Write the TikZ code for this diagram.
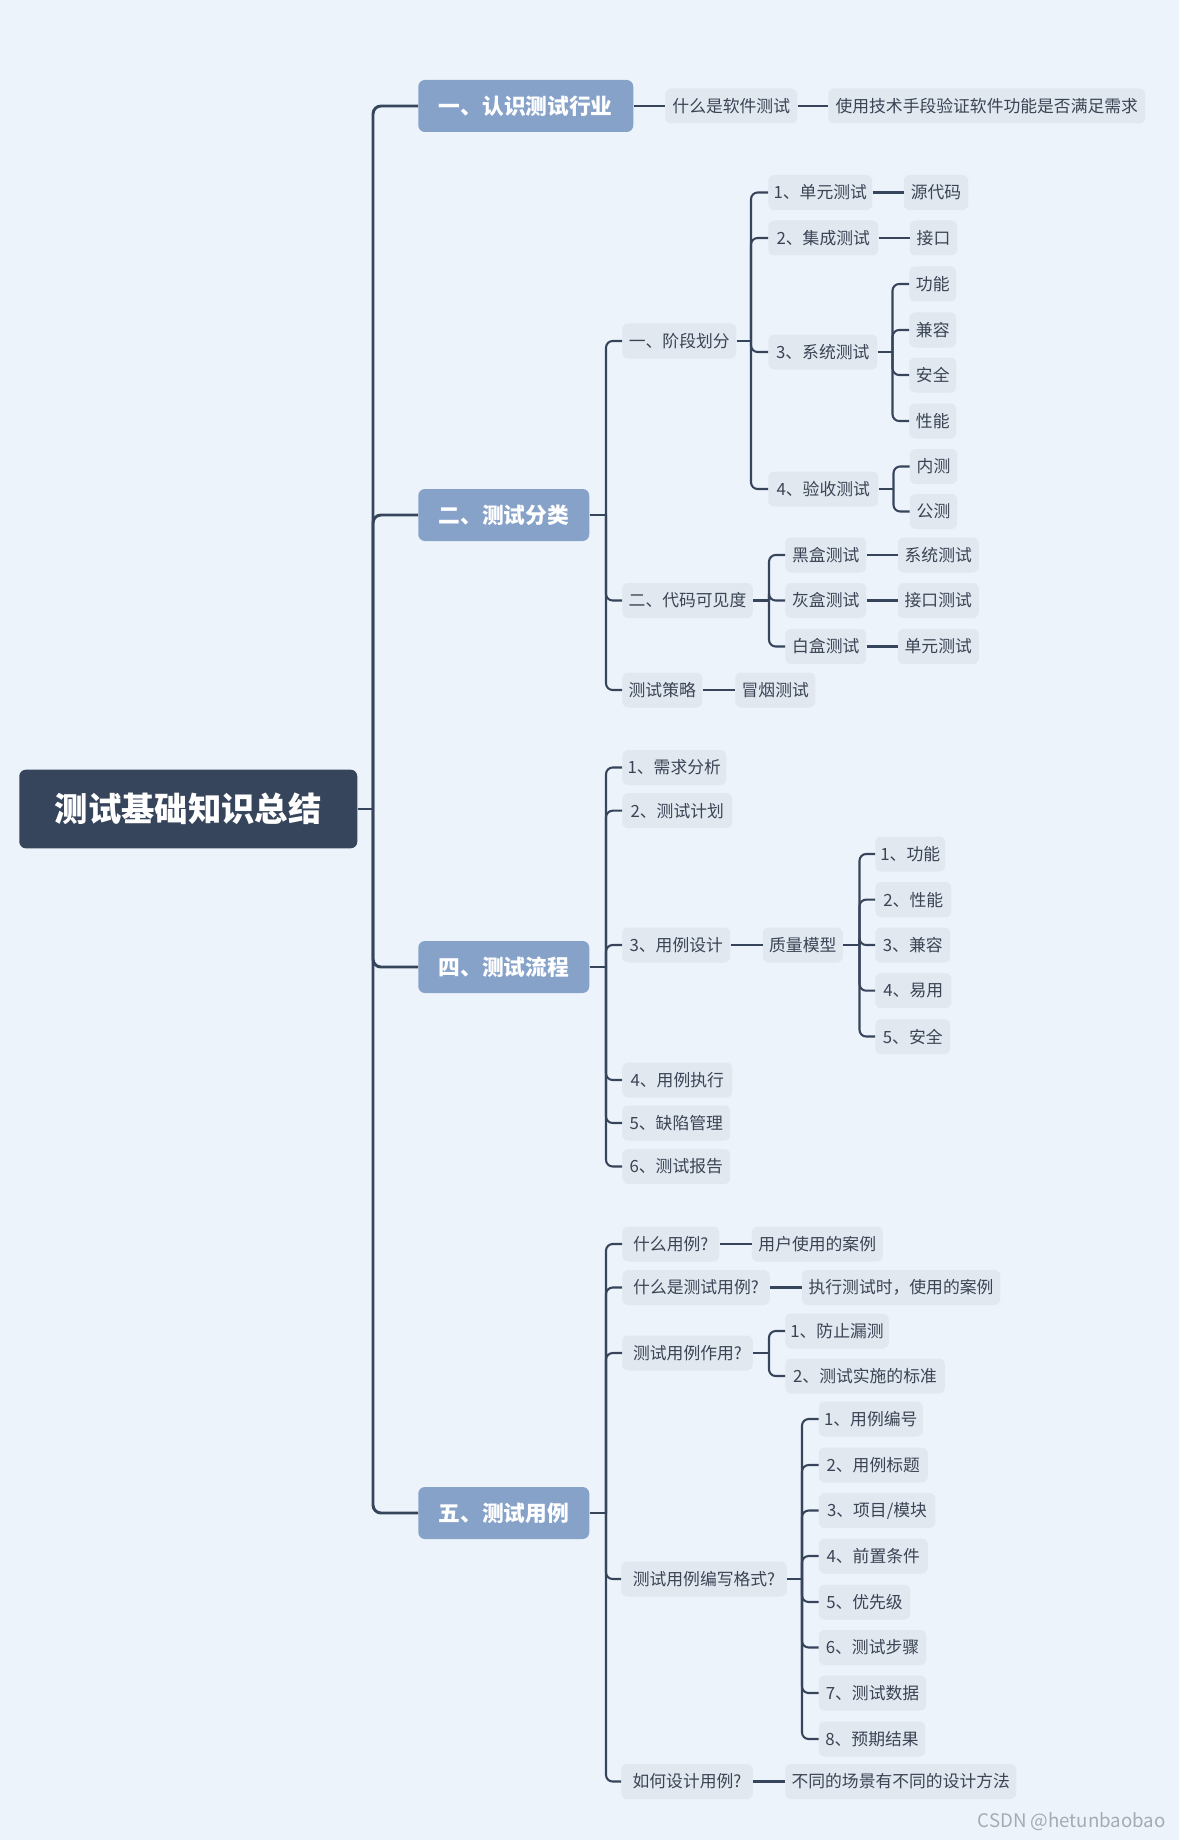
\documentclass[tikz,border=0pt]{standalone}
\usepackage{fontspec}
\setmainfont{Noto Sans CJK SC}
\definecolor{bgc}{HTML}{EDF3FA}
\definecolor{rootbg}{HTML}{36455C}
\definecolor{topicbg}{HTML}{86A2C9}
\definecolor{leafbg}{HTML}{E2E8F0}
\definecolor{leaftext}{HTML}{3A4454}
\definecolor{linec}{HTML}{36455C}
\definecolor{wmark}{HTML}{A3ABB5}
\newcommand\lf[5]{\node[leaf,minimum width=#4*0.75pt] (#1) at (#2,#3) {#5};}
\newcommand\stub[3][conn]{\draw[#1] (#2.east) -- (#3,0 |- #2.east);}
\newcommand\kid[4][conn]{\draw[#1] (#3,0 |- #2.east) |- (#4.west);}
\newcommand\hl[2]{\draw[conn] (#1.east) -- (#1.east -| #2.west);}
\begin{document}
\begin{tikzpicture}[x=0.75pt,y=-0.75pt,
  every node/.style={inner sep=0pt},
  leaf/.style={fill=leafbg, text=leaftext, rounded corners=4.5pt, minimum height=26.25pt, font=\fontsize{12.6pt}{14pt}\selectfont, anchor=west},
  topic/.style={fill=topicbg, text=white, rounded corners=5pt, minimum height=39pt, font=\fontsize{16.3pt}{18pt}\selectfont\bfseries, anchor=west},
  rootbox/.style={fill=rootbg, text=white, rounded corners=5pt, minimum height=59pt, font=\fontsize{25pt}{28pt}\selectfont\bfseries, anchor=west},
  conn/.style={draw=linec, line width=1.55pt, rounded corners=5pt},
  trunk/.style={draw=linec, line width=2.2pt, rounded corners=6pt}
]
\fill[bgc] (0,0) rectangle (1179,1840);
\useasboundingbox (0,0) rectangle (1179,1840);

% root and topics
\node[rootbox, minimum width=338*0.75pt] (root) at (19,809) {测试基础知识总结};
\node[topic, minimum width=215*0.75pt] (A1) at (418,106) {一、认识测试行业};
\node[topic, minimum width=171*0.75pt] (A2) at (418,515) {二、测试分类};
\node[topic, minimum width=171*0.75pt] (A4) at (418,967) {四、测试流程};
\node[topic, minimum width=171*0.75pt] (A5) at (418,1513) {五、测试用例};

\stub[trunk]{root}{373}
\kid[trunk]{root}{373}{A1}
\kid[trunk]{root}{373}{A2}
\kid[trunk]{root}{373}{A4}
\kid[trunk]{root}{373}{A5}

% topic 1
\lf{b11}{665}{106}{132}{什么是软件测试}
\lf{b12}{828}{106}{317}{使用技术手段验证软件功能是否满足需求}
\hl{A1}{b11}
\hl{b11}{b12}

% topic 2
\lf{c1}{622}{341}{114}{一、阶段划分}
\lf{c11}{768}{192.5}{104}{1、单元测试}
\lf{c111}{903.5}{192.5}{64.5}{源代码}
\lf{c12}{768}{238}{110}{2、集成测试}
\lf{c121}{909.5}{238}{47.5}{接口}
\lf{c13}{768}{352}{109}{3、系统测试}
\lf{c131}{909}{284}{47}{功能}
\lf{c132}{909}{330}{47}{兼容}
\lf{c133}{909}{375}{47}{安全}
\lf{c134}{909}{421}{47}{性能}
\lf{c14}{768}{489}{110}{4、验收测试}
\lf{c141}{909.5}{466.5}{47.5}{内测}
\lf{c142}{909.5}{511.5}{47.5}{公测}
\lf{c2}{622}{600.5}{130.5}{二、代码可见度}
\lf{c21}{785}{555}{81}{黑盒测试}
\lf{c211}{897.5}{555}{81}{系统测试}
\lf{c22}{785}{600.5}{81}{灰盒测试}
\lf{c221}{897.5}{600.5}{81}{接口测试}
\lf{c23}{785}{646.5}{81}{白盒测试}
\lf{c231}{897.5}{646.5}{81}{单元测试}
\lf{c3}{622}{690}{80}{测试策略}
\lf{c31}{735}{690}{80}{冒烟测试}

\stub{A2}{606}
\kid{A2}{606}{c1}
\kid{A2}{606}{c2}
\kid{A2}{606}{c3}
\stub{c1}{751}
\kid{c1}{751}{c11}
\kid{c1}{751}{c12}
\kid{c1}{751}{c13}
\kid{c1}{751}{c14}
\hl{c11}{c111}
\hl{c12}{c121}
\stub{c13}{892.5}
\kid{c13}{892.5}{c131}
\kid{c13}{892.5}{c132}
\kid{c13}{892.5}{c133}
\kid{c13}{892.5}{c134}
\stub{c14}{893.5}
\kid{c14}{893.5}{c141}
\kid{c14}{893.5}{c142}
\stub{c2}{769}
\kid{c2}{769}{c21}
\kid{c2}{769}{c22}
\kid{c2}{769}{c23}
\hl{c21}{c211}
\hl{c22}{c221}
\hl{c23}{c231}
\hl{c3}{c31}

% topic 4
\lf{d1}{622}{767.5}{104}{1、需求分析}
\lf{d2}{622}{810.7}{110}{2、测试计划}
\lf{d3}{622}{945}{108}{3、用例设计}
\lf{d31}{762.5}{945}{80}{质量模型}
\lf{d311}{875}{854}{70}{1、功能}
\lf{d312}{875}{899.6}{76}{2、性能}
\lf{d313}{875}{945}{75}{3、兼容}
\lf{d314}{875}{990.7}{76}{4、易用}
\lf{d315}{875}{1036.5}{75}{5、安全}
\lf{d4}{622}{1080}{110}{4、用例执行}
\lf{d5}{622}{1123}{108}{5、缺陷管理}
\lf{d6}{622}{1166.5}{108}{6、测试报告}

\stub{A4}{606}
\kid{A4}{606}{d1}
\kid{A4}{606}{d2}
\kid{A4}{606}{d3}
\kid{A4}{606}{d4}
\kid{A4}{606}{d5}
\kid{A4}{606}{d6}
\hl{d3}{d31}
\stub{d31}{859.5}
\kid{d31}{859.5}{d311}
\kid{d31}{859.5}{d312}
\kid{d31}{859.5}{d313}
\kid{d31}{859.5}{d314}
\kid{d31}{859.5}{d315}

% topic 5
\lf{e1}{622}{1244}{97}{什么用例?}
\lf{e11}{751.5}{1244}{131}{用户使用的案例}
\lf{e2}{622}{1287.5}{147.5}{什么是测试用例?}
\lf{e21}{801.5}{1287.5}{198.5}{执行测试时，使用的案例}
\lf{e3}{622}{1353}{130.5}{测试用例作用?}
\lf{e31}{785}{1331}{103.5}{1、防止漏测}
\lf{e32}{785}{1376}{159.5}{2、测试实施的标准}
\lf{e4}{621}{1579}{165.5}{测试用例编写格式?}
\lf{e41}{818.5}{1419}{104}{1、用例编号}
\lf{e42}{818.5}{1465}{109}{2、用例标题}
\lf{e43}{818.5}{1510.5}{116.5}{3、项目/模块}
\lf{e44}{818.5}{1556}{109}{4、前置条件}
\lf{e45}{818.5}{1602}{91.5}{5、优先级}
\lf{e46}{818.5}{1647.5}{107.5}{6、测试步骤}
\lf{e47}{818.5}{1693}{107.5}{7、测试数据}
\lf{e48}{818.5}{1739}{106.5}{8、预期结果}
\lf{e5}{621}{1781.5}{131.5}{如何设计用例?}
\lf{e51}{785}{1781.5}{231}{不同的场景有不同的设计方法}

\stub{A5}{606}
\kid{A5}{606}{e1}
\kid{A5}{606}{e2}
\kid{A5}{606}{e3}
\kid{A5}{606}{e4}
\kid{A5}{606}{e5}
\hl{e1}{e11}
\hl{e2}{e21}
\stub{e3}{769}
\kid{e3}{769}{e31}
\kid{e3}{769}{e32}
\stub{e4}{802}
\kid{e4}{802}{e41}
\kid{e4}{802}{e42}
\kid{e4}{802}{e43}
\kid{e4}{802}{e44}
\kid{e4}{802}{e45}
\kid{e4}{802}{e46}
\kid{e4}{802}{e47}
\kid{e4}{802}{e48}
\hl{e5}{e51}

\node[anchor=east, text=wmark, font=\fontsize{14pt}{16pt}\selectfont] (wm) at (1166,1822) {CSDN @hetunbaobao};
\end{tikzpicture}
\end{document}
